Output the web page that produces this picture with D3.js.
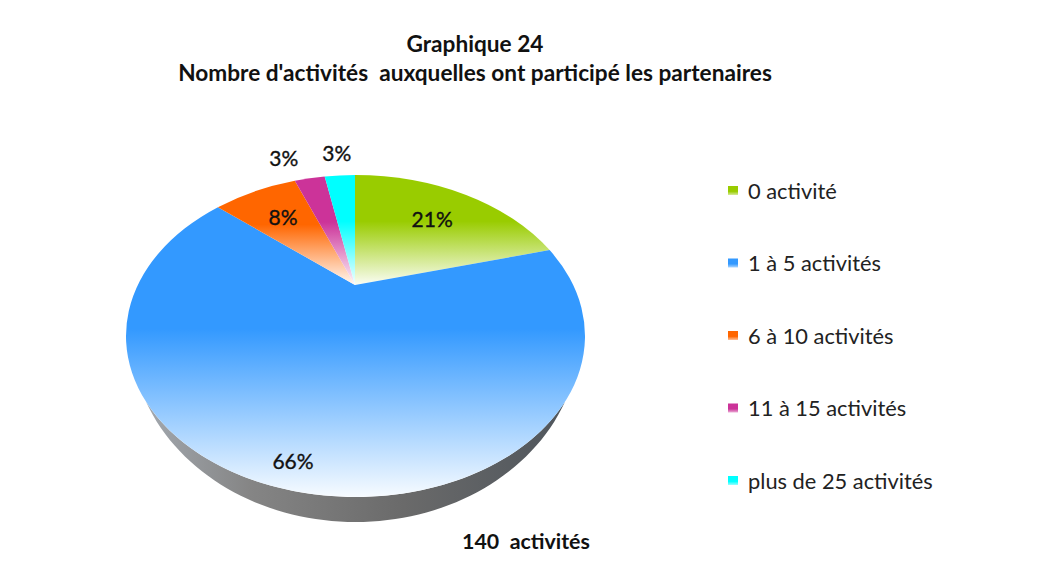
<!DOCTYPE html>
<html>
<head>
<meta charset="utf-8">
<script src="https://cdn.jsdelivr.net/npm/d3@7"></script>
<style>
  body { margin: 0; background: #fff; }
  svg text { font-family: Lato, "Open Sans", sans-serif; white-space: pre; }
</style>
</head>
<body>
<svg id="chart"></svg>
<script>
const categories = ['0 activité', '1 à 5 activités', '6 à 10 activités', '11 à 15 activités', 'plus de 25 activités'];
const counts     = [29, 92, 11, 4, 4];
const colors     = ['#99cc00', '#3399ff', '#ff6600', '#cc3399', '#00ffff'];
const titleLines = ['Graphique 24', "Nombre d'activités  auxquelles ont participé les partenaires"];
const totalLabel = '140  activités';

const W = 1048, H = 580;
const svg = d3.select('#chart').attr('width', W).attr('height', H);
const defs = svg.append('defs');

// projected pie: rim ellipse + apex shifted up (perspective)
const cx = 355.5, cy = 336, rx = 229.5, ry = 161;
const apex = [355, 285];
const k = 0.65, depth = 25;

function rim(theta) {
  const dx = Math.sin(theta), dy = -k * Math.cos(theta);
  const ux = (apex[0] - cx) / rx, uy = (apex[1] - cy) / ry, vx = dx / rx, vy = dy / ry;
  const a = vx * vx + vy * vy, b = 2 * (ux * vx + uy * vy), c = ux * ux + uy * uy - 1;
  const t = (-b + Math.sqrt(b * b - 4 * a * c)) / (2 * a);
  return [apex[0] + t * dx, apex[1] + t * dy, t];
}
const param = (p) => Math.atan2((p[1] - cy) / ry, (p[0] - cx) / rx);

function slicePath(d) {
  const p0 = rim(d.startAngle), p1 = rim(d.endAngle);
  let diff = param(p1) - param(p0);
  while (diff < 0) diff += 2 * Math.PI;
  const large = diff > Math.PI ? 1 : 0;
  return `M${apex[0]},${apex[1]}L${p0[0]},${p0[1]}A${rx},${ry} 0 ${large} 1 ${p1[0]},${p1[1]}Z`;
}

const pie = d3.pie().sort(null).value((d) => d);
const arcs = pie(counts);
const total = d3.sum(counts);

// side wall (front half), tapering towards the left/right
const taper = (s) => Math.pow(Math.max(0, Math.min(1, (s - 0.42) / 0.58)), 0.8);
const phis = d3.range(0, 181, 2).map((a) => a * Math.PI / 180);
const topPts = phis.map((p) => [cx + rx * Math.cos(p), cy + ry * Math.sin(p)]);
const botPts = phis.map((p) => [cx + rx * Math.cos(p), cy + ry * Math.sin(p) + depth * taper(Math.sin(p))]).reverse();
const sideGrad = defs.append('linearGradient').attr('id', 'side')
  .attr('gradientUnits', 'userSpaceOnUse').attr('x1', 140).attr('x2', 580).attr('y1', 0).attr('y2', 0);
[['0', '#a3a9b0'], ['0.25', '#858585'], ['0.6', '#6a6a6a'], ['1', '#4d545b']].forEach(([o, c]) =>
  sideGrad.append('stop').attr('offset', o).attr('stop-color', c));
svg.append('path').attr('d', d3.line()(topPts.concat(botPts)) + 'Z').attr('fill', 'url(#side)');

// slice gradients: full colour at top, fading to white at bottom
colors.forEach((c, i) => {
  const g = defs.append('linearGradient').attr('id', 'g' + i).attr('x1', 0).attr('y1', 0).attr('x2', 0).attr('y2', 1);
  g.append('stop').attr('offset', 0).attr('stop-color', c);
  g.append('stop').attr('offset', 0.42).attr('stop-color', c);
  g.append('stop').attr('offset', 1).attr('stop-color', d3.interpolateRgb(c, '#fff')(0.96));
});

svg.append('g').selectAll('path').data(arcs).enter().append('path')
  .attr('d', slicePath).attr('fill', (d, i) => `url(#g${i})`);

function fit(sel, target) {
  const w = sel.node().getComputedTextLength();
  const fs = parseFloat(sel.attr('font-size'));
  return fs * target / w;
}

// percentage labels
const labels = arcs.map((d) => {
  const mid = (d.startAngle + d.endAngle) / 2;
  const share = d.value / total;
  const r = rim(mid);
  let x, y;
  if (share > 0.05) {
    const f = 0.72 + 0.15 * Math.max(0, -Math.cos(mid));
    x = apex[0] + (r[0] - apex[0]) * f;
    y = apex[1] + (r[1] - apex[1]) * f;
  } else {
    const len = Math.hypot(r[0] - apex[0], r[1] - apex[1]);
    x = r[0] + (r[0] - apex[0]) / len * 22;
    y = r[1] + (r[1] - apex[1]) / len * 22;
  }
  return { x, y, out: share <= 0.05, text: Math.round(share * 100) + '%' };
});
// spread outside labels so they don't collide
const outs = labels.filter((l) => l.out).sort((a, b) => b.x - a.x);
for (let i = 1; i < outs.length; i++) if (outs[i - 1].x - outs[i].x < 53) outs[i].x = outs[i - 1].x - 53;

svg.append('g').selectAll('text').data(labels).enter().append('text')
  .attr('x', (d) => d.x).attr('y', (d) => d.y).attr('dy', '0.36em')
  .attr('text-anchor', 'middle').attr('font-size', 21).attr('fill', '#111')
  .attr('stroke', '#111').attr('stroke-width', 0.35)
  .text((d) => d.text);

// title
const t1 = svg.append('text').attr('x', 475).attr('y', 52).attr('text-anchor', 'middle')
  .attr('font-weight', 'bold').attr('font-size', 20).attr('fill', '#111').text(titleLines[0]);
const t2 = svg.append('text').attr('x', 475).attr('y', 81).attr('text-anchor', 'middle')
  .attr('font-weight', 'bold').attr('font-size', 20).attr('fill', '#111').text(titleLines[1]);
const titleSize = fit(t2, 594);
t1.attr('font-size', titleSize); t2.attr('font-size', titleSize);

// total
const tot = svg.append('text').attr('x', 526).attr('y', 549).attr('text-anchor', 'middle')
  .attr('font-weight', 'bold').attr('font-size', 20).attr('fill', '#111').text(totalLabel);
tot.attr('font-size', fit(tot, 128));

// legend
const ly = d3.scalePoint().domain(categories).range([191, 481]);
const leg = svg.append('g').selectAll('g').data(categories).enter().append('g')
  .attr('transform', (d) => `translate(728,${ly(d)})`);
colors.forEach((c, i) => {
  const g = defs.append('linearGradient').attr('id', 'l' + i).attr('x1', 0).attr('y1', 0).attr('x2', 0).attr('y2', 1);
  g.append('stop').attr('offset', 0).attr('stop-color', c);
  g.append('stop').attr('offset', 0.6).attr('stop-color', c);
  g.append('stop').attr('offset', 1).attr('stop-color', d3.interpolateRgb(c, '#fff')(0.6));
});
leg.append('rect').attr('x', 0).attr('y', -5).attr('width', 10).attr('height', 9)
  .attr('fill', (d, i) => `url(#l${i})`);
const legText = leg.append('text').attr('x', 20).attr('y', 0).attr('dy', '0.35em')
  .attr('font-size', 20).attr('fill', '#222').text((d) => d);
const legSize = fit(legText.filter((d, i) => i === 4), 185);
legText.attr('font-size', legSize);
</script>
</body>
</html>
